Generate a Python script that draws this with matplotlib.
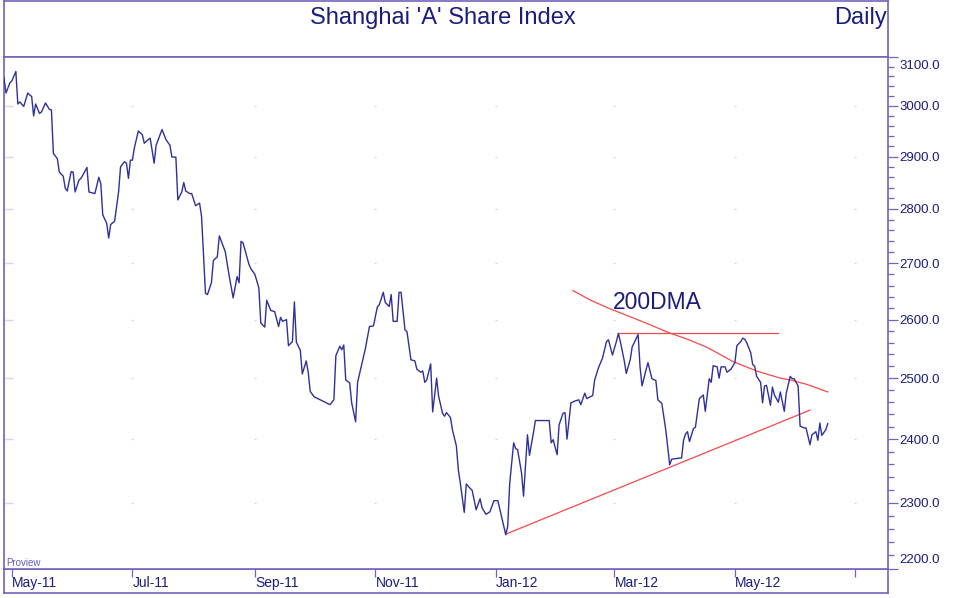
import numpy as np
import pandas as pd
import matplotlib
matplotlib.use('Agg')
import matplotlib.pyplot as plt
import matplotlib.ticker as mticker

plt.rcParams['font.family'] = ['Liberation Sans', 'DejaVu Sans']

# days counted from 1 May 2011
BASE = pd.Timestamp('2011-05-01')

days = [
    -4, -3, -1, 0, 2, 3, 4, 6, 8, 10,
    11, 12, 14, 15, 17, 19, 20, 21, 23, 24,
    26, 27, 28, 30, 31, 32, 34, 35, 38, 39,
    42, 44, 45, 46, 48, 49, 50, 52, 54, 55,
    57, 58, 59, 60, 61, 62, 64, 66, 67, 69,
    70, 72, 73, 75, 76, 78, 80, 81, 83, 84,
    86, 87, 88, 90, 91, 93, 95, 96, 98, 99,
    101, 102, 104, 105, 107, 108, 110, 112, 114, 115,
    116, 117, 120, 121, 123, 125, 126, 128, 129, 131,
    133, 135, 136, 137, 139, 140, 142, 143, 144, 146,
    147, 149, 150, 151, 153, 161, 163, 164, 166, 167,
    168, 169, 171, 172, 174, 175, 178, 179, 181, 183,
    185, 186, 188, 189, 191, 192, 193, 195, 196, 197,
    199, 200, 202, 204, 205, 207, 208, 209, 210, 212,
    213, 215, 216, 218, 219, 220, 222, 223, 225, 226,
    227, 229, 230, 232, 233, 235, 237, 238, 240, 242,
    244, 246, 248, 250, 251, 252, 254, 255, 256, 258,
    259, 261, 262, 264, 265, 272, 273, 274, 276, 277,
    279, 280, 281, 283, 285, 287, 288, 290, 291, 294,
    295, 297, 299, 301, 302, 304, 306, 307, 308, 310,
    311, 313, 314, 315, 317, 318, 319, 321, 322, 324,
    326, 327, 329, 331, 333, 334, 339, 340, 341, 342,
    343, 345, 346, 347, 348, 350, 351, 353, 354, 355,
    357, 358, 359, 361, 362, 364, 366, 367, 369, 370,
    371, 372, 374, 375, 376, 377, 379, 380, 381, 382,
    384, 385, 386, 388, 389, 391, 392, 394, 395, 396,
    398, 399, 401, 402, 404, 405, 407, 408, 409, 410,
    412, 413,
]

close = [
    3057, 3026, 3047, 3051, 3070, 3004, 3008, 2999, 3026, 3019,
    2980, 3004, 2985, 2988, 3006, 2993, 2992, 2906, 2896, 2870,
    2862, 2839, 2834, 2871, 2870, 2832, 2855, 2858, 2879, 2832,
    2829, 2860, 2848, 2789, 2773, 2746, 2771, 2777, 2832, 2880,
    2890, 2887, 2858, 2893, 2893, 2917, 2950, 2943, 2926, 2933,
    2936, 2887, 2922, 2943, 2953, 2933, 2922, 2899, 2899, 2817,
    2832, 2850, 2834, 2829, 2829, 2806, 2811, 2786, 2646, 2644,
    2665, 2705, 2712, 2750, 2731, 2721, 2677, 2638, 2676, 2665,
    2740, 2737, 2698, 2690, 2680, 2656, 2594, 2587, 2634, 2616,
    2614, 2588, 2604, 2597, 2600, 2555, 2562, 2631, 2561, 2547,
    2507, 2529, 2510, 2478, 2469, 2456, 2464, 2538, 2554, 2548,
    2556, 2497, 2492, 2459, 2428, 2493, 2537, 2551, 2588, 2589,
    2622, 2626, 2648, 2630, 2623, 2644, 2597, 2597, 2648, 2648,
    2582, 2579, 2531, 2529, 2515, 2510, 2512, 2493, 2497, 2524,
    2444, 2500, 2470, 2442, 2437, 2443, 2435, 2415, 2389, 2351,
    2330, 2285, 2329, 2322, 2319, 2289, 2306, 2292, 2282, 2286,
    2303, 2303, 2277, 2251, 2264, 2330, 2394, 2385, 2383, 2346,
    2310, 2407, 2374, 2410, 2430, 2430, 2394, 2399, 2375, 2423,
    2442, 2443, 2400, 2459, 2462, 2464, 2456, 2475, 2466, 2471,
    2497, 2518, 2534, 2562, 2565, 2539, 2562, 2576, 2562, 2529,
    2508, 2531, 2553, 2560, 2574, 2518, 2487, 2514, 2526, 2499,
    2496, 2464, 2458, 2415, 2359, 2368, 2370, 2398, 2408, 2412,
    2396, 2417, 2419, 2443, 2466, 2472, 2445, 2499, 2493, 2521,
    2519, 2500, 2519, 2519, 2510, 2515, 2526, 2555, 2562, 2568,
    2566, 2560, 2543, 2523, 2520, 2503, 2493, 2459, 2487, 2488,
    2455, 2485, 2472, 2460, 2477, 2445, 2475, 2503, 2499, 2499,
    2487, 2421, 2418, 2418, 2391, 2407, 2412, 2398, 2426, 2406,
    2415, 2425,
]

# 200 day moving average (drawn part)
dma_days = [284, 293, 302, 310, 321, 332, 342, 352, 365, 377, 389, 394, 402, 413]
dma = [2651, 2634, 2620, 2609, 2594, 2578, 2566, 2552, 2528, 2512, 2500, 2497, 2490, 2477]

# trend lines
support_days = [250, 404]
support = [2252, 2447]
resist_days = [307, 388]
resist = [2576, 2576]

tick_months = ['2011-05-01', '2011-07-01', '2011-09-01', '2011-11-01',
               '2012-01-01', '2012-03-01', '2012-05-01', '2012-07-01']
tick_labels = ['May-11', 'Jul-11', 'Sep-11', 'Nov-11',
               'Jan-12', 'Mar-12', 'May-12', '']
price_ticks = [2200, 2300, 2400, 2500, 2600, 2700, 2800, 2900, 3000, 3100]

FRAME = '#6f63bd'
TEXT = '#1c1c7c'
LINE = '#30309a'
RED = '#f24a4a'
DOT = '#d6d6e6'

def to_dates(d):
    return BASE + pd.to_timedelta(np.array(d), unit='D')

W, H = 956, 598
fig = plt.figure(figsize=(W / 100, H / 100), dpi=100)

left, right = 4, 888
top_y, plot_top, plot_bot, bot_y = 0.5, 57, 569, 593

# title panel
tax = fig.add_axes([left / W, 1 - plot_top / H, (right - left) / W, (plot_top - top_y) / H])
tax.set_xticks([])
tax.set_yticks([])
for s in tax.spines.values():
    s.set_color(FRAME)
    s.set_linewidth(1.2)

# bottom panel for the dates
bax = fig.add_axes([left / W, 1 - bot_y / H, (right - left) / W, (bot_y - plot_bot) / H])
bax.set_xticks([])
bax.set_yticks([])
for s in bax.spines.values():
    s.set_color(FRAME)
    s.set_linewidth(1.2)

ax = fig.add_axes([left / W, 1 - plot_bot / H, (right - left) / W, (plot_bot - plot_top) / H])
for s in ax.spines.values():
    s.set_color(FRAME)
    s.set_linewidth(1.2)

x0 = pd.Timestamp('2011-04-27')
x1 = pd.Timestamp('2012-07-17 12:00')

ax.set_yscale('log')
ax.set_ylim(2200, 3100)
ax.set_xlim(x0, x1)

# faint grid marks
grid_months = pd.to_datetime(tick_months[1:])
for lvl in price_ticks[1:-1]:
    ax.plot(grid_months, [lvl] * len(grid_months), ls='none', marker='_',
            ms=2, mew=1, color=DOT, zorder=1)
    ax.plot([x0], [lvl], ls='none', marker='_', ms=13, mew=1, color=DOT, zorder=1)

ax.plot(to_dates(days), close, color=LINE, lw=1.0, zorder=3)
ax.plot(to_dates(dma_days), dma, color=RED, lw=0.9, zorder=2)
ax.plot(to_dates(support_days), support, color=RED, lw=0.9, zorder=2)
ax.plot(to_dates(resist_days), resist, color=RED, lw=0.9, zorder=2)

# y axis on the right
ax.yaxis.tick_right()
ax.yaxis.set_major_locator(mticker.FixedLocator(price_ticks))
minor = [v for v in range(2220, 3100, 20) if v % 100]
ax.yaxis.set_minor_locator(mticker.FixedLocator(minor))
ax.yaxis.set_major_formatter(mticker.FuncFormatter(
    lambda v, p: f'{v:.1f}' if 2200 < v < 3100 else ''))
ax.yaxis.set_minor_formatter(mticker.NullFormatter())
ax.tick_params(axis='y', which='major', direction='out', length=7.5, width=0.9,
               color=FRAME, labelcolor=TEXT, labelsize=9.5, pad=1)
ax.tick_params(axis='y', which='minor', direction='out', length=4.3, width=0.9,
               color=FRAME)
for v, dy in [(3100, -9), (2200, 9)]:
    ax.annotate(f'{v:.1f}', xy=(1, v), xycoords=('axes fraction', 'data'),
                xytext=(11, dy), textcoords='offset pixels', ha='left', va='center',
                fontsize=9.5, color=TEXT, annotation_clip=False)

# x axis
ax.set_xticks(pd.to_datetime(tick_months))
ax.set_xticklabels(tick_labels, ha='left')
ax.tick_params(axis='x', direction='out', length=5.8, width=0.9, color=FRAME,
               labelcolor=TEXT, labelsize=10, pad=-1)

fig.text(443 / W, 1 - 24 / H, "Shanghai 'A' Share Index", ha='center', va='baseline',
         fontsize=17, color=TEXT)
fig.text(887 / W, 1 - 24 / H, 'Daily', ha='right', va='baseline', fontsize=17, color=TEXT)

ax.text(0.6886, 0.507, '200DMA', transform=ax.transAxes, ha='left', va='baseline',
        fontsize=16.5, color=TEXT)
ax.text(0.0023, 0.0065, 'Proview', transform=ax.transAxes, ha='left', va='baseline',
        fontsize=7, color='#6060b8')

fig.savefig('out.png', dpi=100)
